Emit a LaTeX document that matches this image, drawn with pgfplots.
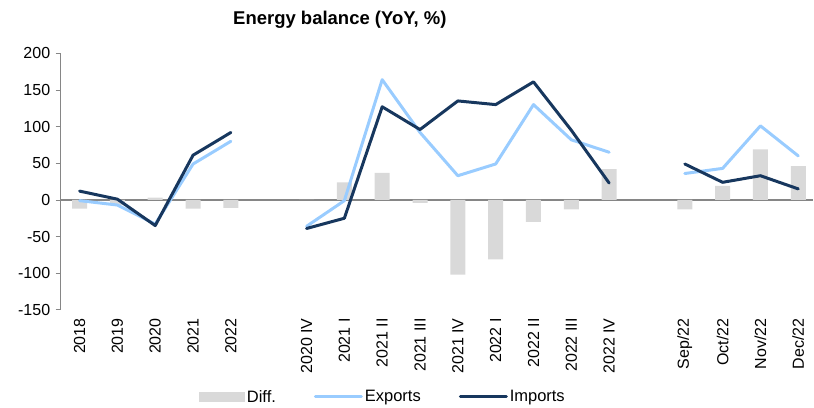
\documentclass[border=0pt]{standalone}
\usepackage{pgfplots}
\pgfplotsset{compat=1.18}
\usepackage{pgfplotstable}
\usepackage{fontspec}
\setmainfont{Liberation Sans}
\definecolor{diffgray}{HTML}{D9D9D9}
\definecolor{explight}{HTML}{99CCFF}
\definecolor{impdark}{HTML}{17375E}
\definecolor{axgray}{HTML}{868686}

\pgfplotstableread{
x diff exports imports
0 -12 -1 12
1 -7 -7 1
2 3 -33 -35
3 -12 49 61
4 -11 80 92
5 nan nan nan
6 0 -36 -39
7 24 -1 -25
8 37 164 127
9 -4 92 96
10 -102 33 135
11 -81 49 130
12 -30 130 161
13 -13 82 95
14 42 65 23
15 nan nan nan
16 -13 36 49
17 19 43 24
18 69 101 33
19 46 60 15
}\datatable

\begin{document}
\begin{tikzpicture}
\begin{axis}[
  scale only axis,
  width=753bp, height=256.7bp,
  xmin=-0.5, xmax=19.4,
  ymin=-150, ymax=200,
  axis lines*=left,
  x axis line style={draw=none},
  y axis line style={axgray, line width=0.8bp},
  ytick={-150,-100,...,200},
  yticklabels={-150,-100,-50,0,50,100,150,200},
  tick align=outside,
  ytick style={axgray, line width=0.8bp},
  major tick length=5bp,
  xtick={0,1,2,3,4,6,7,8,9,10,11,12,13,14,16,17,18,19},
  xticklabels={2018,2019,2020,2021,2022,2020 IV,2021 I,2021 II,2021 III,2021 IV,2022 I,2022 II,2022 III,2022 IV,Sep/22,Oct/22,Nov/22,Dec/22},
  xtick style={draw=none},
  xticklabel style={rotate=90, anchor=east, font=\fontsize{16bp}{19bp}\selectfont},
  yticklabel style={font=\fontsize{16bp}{19bp}\selectfont, xshift=-2bp},
  unbounded coords=jump,
  clip=false,
  legend columns=3,
  legend style={draw=none, fill=none, at={(0.428,-0.339)}, anchor=center,
    font=\fontsize{16.5bp}{19bp}\selectfont,
    /tikz/every even column/.append style={column sep=36bp}},
]
\draw[axgray, line width=1.2bp] (axis cs:-0.5,0) -- (axis cs:19.4,0);
\addplot[ybar, bar width=15bp, fill=diffgray, draw=none,
  legend image code/.code={\fill[diffgray] (0bp,-5bp) rectangle (46bp,5bp);}]
  table[x=x, y=diff] {\datatable};
\addlegendentry{Diff.}
\addplot[explight, line width=3bp, line join=round, line cap=round, mark=none,
  legend image code/.code={\draw[explight, line width=3bp] (0bp,0bp) -- (46bp,0bp);}]
  table[x=x, y=exports] {\datatable};
\addlegendentry{Exports}
\addplot[impdark, line width=3bp, line join=round, line cap=round, mark=none,
  legend image code/.code={\draw[impdark, line width=3bp] (0bp,0bp) -- (46bp,0bp);}]
  table[x=x, y=imports] {\datatable};
\addlegendentry{Imports}
\end{axis}
\node[font=\bfseries\fontsize{18.5bp}{21bp}\selectfont] at ([xshift=279.3bp,yshift=290bp]current axis.south west) {Energy balance (YoY, \%)};
\path[use as bounding box] ([xshift=-60.7bp,yshift=-96bp]current axis.south west) rectangle ([xshift=753.3bp,yshift=310bp]current axis.south west);
\end{tikzpicture}
\end{document}
